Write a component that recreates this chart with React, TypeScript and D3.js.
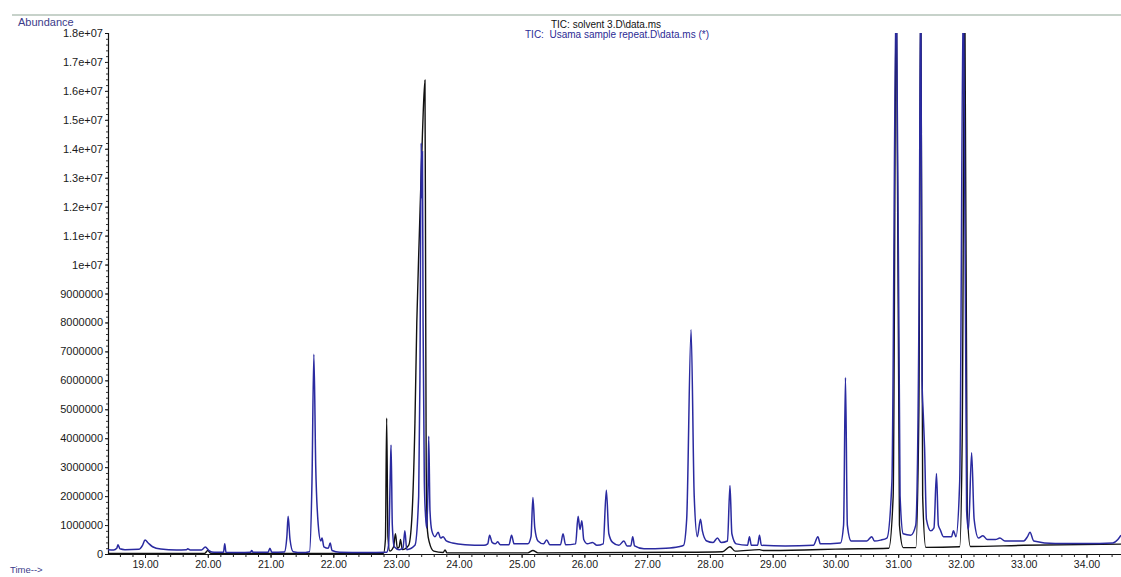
import React, { useRef, useEffect } from 'react';
import * as d3 from 'd3';

const width = 1121;
const height = 577;

// TIC: Usama sample repeat (blue trace) - retention time (min) / abundance
const sampleTime = [
  18.41, 18.5, 18.55, 18.57, 18.6, 18.68, 18.9, 18.96, 19.0, 19.05, 19.12, 19.25, 19.5, 19.66, 19.68, 19.72,
  19.9, 19.96, 20.02, 20.1, 20.25, 20.27, 20.29, 20.5, 20.68, 20.7, 20.72, 20.96, 20.99, 21.02, 21.22, 21.26,
  21.28, 21.31, 21.36, 21.5, 21.62, 21.66, 21.69, 21.72, 21.76, 21.8, 21.82, 21.85, 21.92, 21.95, 21.98, 22.1,
  22.5, 22.85, 22.88, 22.91, 22.92, 22.94, 22.97, 23.05, 23.11, 23.14, 23.17, 23.3, 23.36, 23.38, 23.4, 23.41,
  23.42, 23.43, 23.45, 23.47, 23.49, 23.51, 23.52, 23.54, 23.57, 23.62, 23.67, 23.71, 23.75, 23.8, 23.9, 24.1,
  24.4, 24.46, 24.49, 24.53, 24.58, 24.62, 24.66, 24.8, 24.84, 24.88, 25.1, 25.15, 25.18, 25.21, 25.26, 25.35,
  25.4, 25.45, 25.62, 25.66, 25.7, 25.86, 25.9, 25.93, 25.96, 25.99, 26.05, 26.13, 26.2, 26.3, 26.35, 26.39,
  26.45, 26.55, 26.63, 26.68, 26.74, 26.77, 26.8, 26.95, 27.3, 27.5, 27.58, 27.63, 27.7, 27.75, 27.8, 27.85,
  27.88, 27.95, 28.05, 28.12, 28.18, 28.28, 28.32, 28.35, 28.42, 28.6, 28.63, 28.66, 28.76, 28.79, 28.82, 29.2,
  29.65, 29.72, 29.76, 30.08, 30.13, 30.16, 30.19, 30.25, 30.5, 30.58, 30.62, 30.72, 30.82, 30.9, 30.97, 31.03,
  31.08, 31.2, 31.28, 31.33, 31.36, 31.38, 31.4, 31.42, 31.45, 31.52, 31.57, 31.61, 31.64, 31.67, 31.72, 31.85,
  31.88, 31.92, 31.98, 32.04, 32.09, 32.12, 32.17, 32.21, 32.28, 32.35, 32.42, 32.55, 32.62, 32.7, 33.0, 33.06,
  33.1, 33.16, 33.5, 34.0, 34.42, 34.5, 34.55
];
const sampleAbundance = [
  1.5e5, 1.4e5, 2.0e5, 3.2e5, 1.8e5, 1.5e5, 1.6e5, 3.0e5, 4.8e5, 3.8e5, 2.5e5, 1.7e5, 1.4e5, 1.5e5, 1.8e5, 1.4e5,
  1.4e5, 2.4e5, 1.2e5, 6e4, 6e4, 3.5e5, 6e4, 5e4, 6e4, 1.2e5, 6e4, 6e4, 2.0e5, 6e4, 7e4, 6e5,
  1.3e6, 5e5, 8e4, 5e4, 8e4, 2.5e6, 6.9e6, 3.0e6, 1.0e6, 4.5e5, 5.5e5, 2.5e5, 2.0e5, 3.8e5, 1.2e5, 6e4,
  5e4, 6e4, 3e5, 3.0e6, 3.77e6, 1.0e6, 2.5e5, 1.5e5, 2.0e5, 8e5, 1.5e5, 3e5, 2.0e6, 6.0e6, 1.42e7, 1.23e7,
  1.39e7, 8.0e6, 2.5e6, 1.3e6, 9e5, 2.5e6, 4.07e6, 1.5e6, 8e5, 6e5, 7.5e5, 5.5e5, 6e5, 4.5e5, 3.8e5, 3.2e5,
  3.0e5, 3.5e5, 6.5e5, 4e5, 3.5e5, 4.2e5, 3.2e5, 3.2e5, 6.5e5, 3.5e5, 3.5e5, 6e5, 1.95e6, 9e5, 4.5e5, 3.5e5,
  4.8e5, 3.2e5, 3.2e5, 7e5, 3.2e5, 3.5e5, 1.3e6, 8.5e5, 1.15e6, 5e5, 3.5e5, 4e5, 3e5, 3.5e5, 2.2e6, 7e5,
  4e5, 3e5, 4.5e5, 2.8e5, 2.8e5, 6e5, 2.8e5, 1.8e5, 2.0e5, 2.5e5, 3e5, 1.2e6, 7.75e6, 2.0e6, 6e5, 1.2e6,
  8e5, 4.5e5, 4e5, 5.5e5, 4e5, 4.5e5, 2.37e6, 7e5, 3.5e5, 3e5, 6e5, 3e5, 3e5, 6.5e5, 3e5, 2.8e5,
  3e5, 6e5, 3.5e5, 3.8e5, 1.0e6, 6.1e6, 1.0e6, 4.5e5, 4.5e5, 6e5, 4.5e5, 4.8e5, 5.5e5, 2.5e6, 2.0e7, 2.0e6,
  7e5, 6.5e5, 1.0e6, 8.0e6, 2.0e7, 6.0e6, 4.8e6, 3.7e6, 1.2e6, 8e5, 9e5, 2.78e6, 1.0e6, 8.4e5, 6e5, 6e5,
  8e5, 6e5, 2.5e6, 2.0e7, 1.5e6, 8.4e5, 3.5e6, 1.2e6, 5.5e5, 6.3e5, 5e5, 5e5, 5.5e5, 4.5e5, 4.5e5, 6e5,
  7.5e5, 4.5e5, 3.6e5, 3.6e5, 3.8e5, 5e5, 6.5e5
];

// TIC: solvent 3 (black trace)
const solventTime = [
  18.41, 19.95, 20.0, 20.05, 22.8, 22.83, 22.85, 22.87, 22.9, 22.96, 22.99, 23.02, 23.05, 23.07, 23.1, 23.2,
  23.25, 23.3, 23.33, 23.37, 23.42, 23.46, 23.47, 23.48, 23.5, 23.53, 23.6, 23.75, 23.78, 23.81, 25.1, 25.18,
  25.26, 27.5, 28.2, 28.32, 28.4, 28.79, 28.85, 29.5, 30.0, 30.85, 30.92, 30.97, 31.02, 31.08, 31.28, 31.33,
  31.36, 31.39, 31.44, 31.98, 32.02, 32.06, 32.1, 32.15, 33.0, 34.55
];
const solventAbundance = [
  2e4, 2e4, 1.2e5, 2e4, 2e4, 5e5, 4.7e6, 6e5, 1e5, 2.5e5, 7e5, 2e5, 2.5e5, 5e5, 1.5e5, 3e5,
  1.2e6, 4.5e6, 8.0e6, 1.1e7, 1.45e7, 1.637e7, 1.0e7, 3.0e6, 8e5, 4e5, 1e5, 5e4, 1.4e5, 4e4, 4e4, 1.2e5,
  4e4, 6e4, 8e4, 2.5e5, 1e5, 1.5e5, 1.2e5, 1.4e5, 1.7e5, 2.0e5, 2.0e6, 2.0e7, 1.0e6, 2.2e5, 2.2e5, 5.0e6,
  2.0e7, 2.0e6, 2.3e5, 2.5e5, 4.0e6, 2.0e7, 1.5e6, 2.6e5, 3.0e5, 3.4e5
];

const xTickValues = [19, 20, 21, 22, 23, 24, 25, 26, 27, 28, 29, 30, 31, 32, 33, 34];
const xMinorTicks = d3.range(18.6, 34.5, 0.2);
const yTickValues = [0, 1e6, 2e6, 3e6, 4e6, 5e6, 6e6, 7e6, 8e6, 9e6, 1e7, 1.1e7, 1.2e7, 1.3e7, 1.4e7, 1.5e7, 1.6e7, 1.7e7, 1.8e7];
const yTickLabels = ['0', '1000000', '2000000', '3000000', '4000000', '5000000', '6000000', '7000000', '8000000', '9000000',
  '1e+07', '1.1e+07', '1.2e+07', '1.3e+07', '1.4e+07', '1.5e+07', '1.6e+07', '1.7e+07', '1.8e+07'];

const App = () => {
  const svgRef = useRef(null);

  useEffect(() => {
    const svg = d3.select(svgRef.current);
    svg.selectAll('*').remove();

    const left = 108, right = 1121, top = 33, bottom = 554;
    const font = 'Arial, "Liberation Sans", sans-serif';

    const x = d3.scaleLinear().domain([18.41, 34.55]).range([left, right]);
    const y = d3.scaleLinear().domain([0, 1.8e7]).range([bottom, top]);

    svg.append('rect').attr('width', width).attr('height', height).attr('fill', '#fff');

    // faint frame line at the very top
    svg.append('line')
      .attr('x1', 12).attr('x2', width).attr('y1', 15).attr('y2', 15)
      .attr('stroke', '#8fa595').attr('stroke-width', 1);

    svg.append('text').attr('x', 18).attr('y', 26)
      .attr('font-family', font).attr('font-size', 11).attr('fill', '#3b3b8a')
      .text('Abundance');

    svg.append('text').attr('x', 10).attr('y', 573)
      .attr('font-family', font).attr('font-size', 9.5).attr('fill', '#3b3b8a')
      .text('Time-->');

    // titles of the two overlaid runs
    svg.append('text').attr('x', 606).attr('y', 28).attr('text-anchor', 'middle')
      .attr('font-family', font).attr('font-size', 10).attr('fill', '#111')
      .text('TIC: solvent 3.D\\data.ms');
    svg.append('text').attr('x', 617).attr('y', 38).attr('text-anchor', 'middle')
      .attr('font-family', font).attr('font-size', 10).attr('fill', '#2b2b95')
      .style('white-space', 'pre')
      .text('TIC:  Usama sample repeat.D\\data.ms (*)');

    // y axis
    const yAxis = svg.append('g').attr('transform', `translate(${left},0)`)
      .call(d3.axisLeft(y).tickValues(yTickValues).tickSize(3).tickPadding(2)
        .tickFormat((d, i) => yTickLabels[i]));
    yAxis.select('.domain').attr('stroke', '#111').attr('stroke-width', 1.2);
    yAxis.selectAll('line').attr('stroke', '#111');
    yAxis.selectAll('text').attr('font-family', font).attr('font-size', 11).attr('fill', '#1a1a1a');

    svg.append('g').attr('transform', `translate(${left},0)`)
      .call(d3.axisLeft(y).tickValues(d3.range(2e5, 1.8e7, 2e5)).tickSize(2).tickFormat(() => ''))
      .call(g => g.select('.domain').remove())
      .selectAll('line').attr('stroke', '#333');

    // x axis
    const xAxis = svg.append('g').attr('transform', `translate(0,${bottom})`)
      .call(d3.axisBottom(x).tickValues(xTickValues).tickSize(4).tickPadding(3)
        .tickFormat(d3.format('.2f')).tickSizeOuter(0));
    xAxis.select('.domain').attr('stroke', '#111').attr('stroke-width', 1.2);
    xAxis.selectAll('line').attr('stroke', '#111');
    xAxis.selectAll('text').attr('font-family', font).attr('font-size', 10.5).attr('fill', '#1a1a1a');

    svg.append('g').attr('transform', `translate(0,${bottom})`)
      .call(d3.axisBottom(x).tickValues(xMinorTicks).tickSize(3).tickFormat(() => ''))
      .call(g => g.select('.domain').remove())
      .selectAll('line').attr('stroke', '#222');

    // clip traces to the plot area
    svg.append('clipPath').attr('id', 'plot-clip')
      .append('rect').attr('x', left).attr('y', top).attr('width', right - left).attr('height', bottom - top + 2);

    const line = d3.line()
      .x(d => x(d[0]))
      .y(d => y(d[1]))
      .curve(d3.curveMonotoneX);

    const solvent = solventTime.map((t, i) => [t, solventAbundance[i]]);
    const sample = sampleTime.map((t, i) => [t, sampleAbundance[i]]);

    const traces = svg.append('g').attr('clip-path', 'url(#plot-clip)');

    traces.append('path')
      .datum(solvent)
      .attr('fill', 'none')
      .attr('stroke', '#111')
      .attr('stroke-width', 1.4)
      .attr('d', line);

    traces.append('path')
      .datum(sample)
      .attr('fill', 'none')
      .attr('stroke', '#2a2aa0')
      .attr('stroke-width', 1.5)
      .attr('d', line);
  }, []);

  return (
    <svg ref={svgRef} width={width} height={height}
      style={{ position: 'absolute', left: 0, top: 0, display: 'block' }} />
  );
};

export default App;
